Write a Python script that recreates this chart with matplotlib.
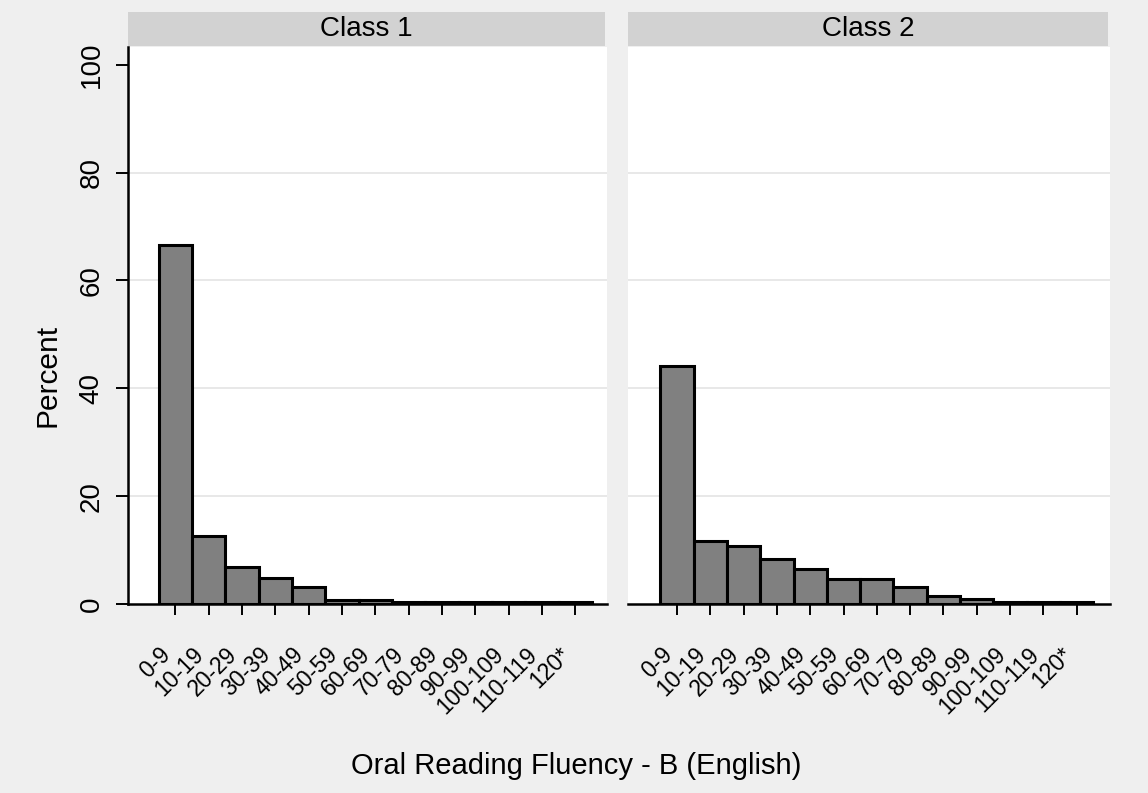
import numpy as np
import matplotlib
matplotlib.use('Agg')
import matplotlib.pyplot as plt

plt.rcParams['font.family'] = ['Liberation Sans', 'DejaVu Sans']

#bins and percentages
bins = ['0-9', '10-19', '20-29', '30-39', '40-49', '50-59', '60-69',
        '70-79', '80-89', '90-99', '100-109', '110-119', '120*']
class1 = [66.6, 12.6, 6.9, 4.9, 3.1, 0.8, 0.8, 0.3, 0.3, 0.3, 0.3, 0.3, 0.3]
class2 = [44.1, 11.7, 10.7, 8.4, 6.5, 4.6, 4.6, 3.1, 1.4, 0.9, 0.4, 0.4, 0.4]
titles = ['Class 1', 'Class 2']
yticks = [0, 20, 40, 60, 80, 100]

W, H = 1148, 793
bg = '#efefef'
fig = plt.figure(figsize=(W/100, H/100), dpi=100, facecolor=bg)

# panel boxes in pixels (left, right) and x limits
boxes = [(128, 607), (628, 1110)]
xlims = [(-1.42, 12.95), (-1.47, 13.0)]
top, bot = 47, 604

x = np.arange(len(bins))
for k, vals in enumerate([class1, class2]):
  l, r = boxes[k]
  ax = fig.add_axes([l/W, 1-bot/H, (r-l)/W, (bot-top)/H])
  ax.set_facecolor('white')
  ax.bar(x, vals, width=1.0, color='#808080', edgecolor='black', linewidth=2.2, zorder=3)
  ax.set_xlim(*xlims[k])
  ax.set_ylim(0, 103.3)
  for g in [20, 40, 60, 80]:
    ax.axhline(g, color='#e8e8e8', lw=1.4, zorder=1)
  for s in ['top', 'right']:
    ax.spines[s].set_visible(False)
  ax.spines['bottom'].set_linewidth(1.8)
  ax.set_xticks(x)
  ax.set_xticklabels(bins, rotation=45, ha='right', va='top', fontsize=16.5)
  ax.tick_params(axis='x', length=8, width=1.4, pad=20)
  if k == 0:
    ax.spines['left'].set_linewidth(1.8)
    ax.set_yticks(yticks)
    ax.set_yticklabels([str(v) for v in yticks], rotation=90, va='center', fontsize=20)
    ax.tick_params(axis='y', length=9, width=1.4, pad=8)
  else:
    ax.spines['left'].set_visible(False)
    ax.set_yticks([])

  # strip title above each panel
  sx = fig.add_axes([l/W, 1-46/H, (r-2-l)/W, 34/H])
  sx.set_facecolor('#d2d2d2')
  sx.set_xticks([]); sx.set_yticks([])
  for s in sx.spines.values():
    s.set_visible(False)
  sx.text(0.5, 0.5, titles[k], ha='center', va='center', fontsize=20)

fig.text(48/W, 1-375/H, 'Percent', rotation=90, ha='center', va='center', fontsize=21.5)
fig.text(576/W, 1-766/H, 'Oral Reading Fluency - B (English)', ha='center', va='center', fontsize=21)

plt.savefig('out.png', dpi=100, facecolor=bg)
